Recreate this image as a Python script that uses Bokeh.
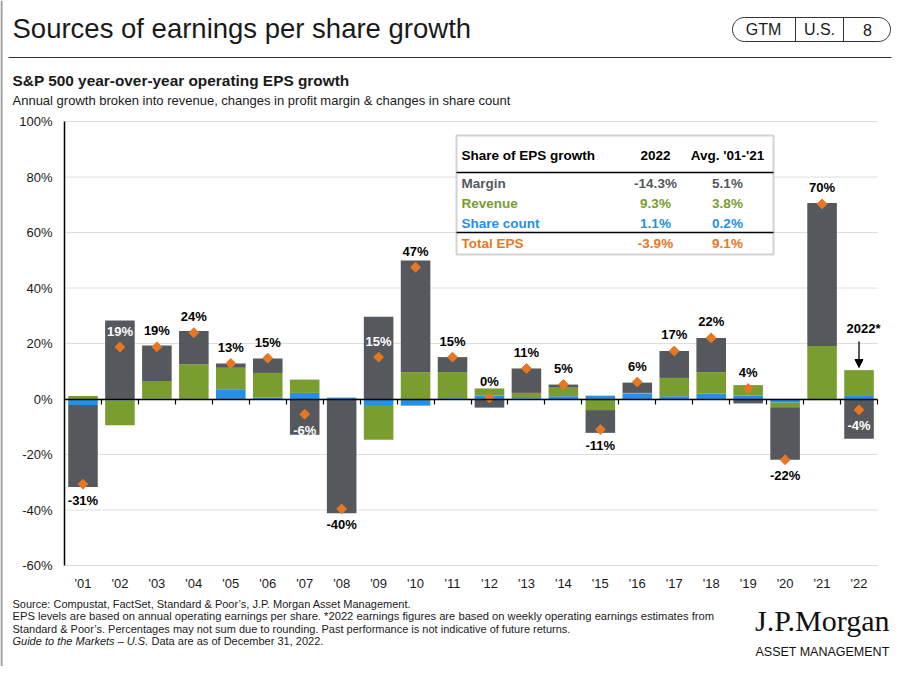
import numpy as np
from bokeh.plotting import figure
from bokeh.models import (Range1d, ColumnDataSource, Label, Arrow, LinearAxis,
                          NormalHead, FixedTicker, BoxAnnotation)
from bokeh.core.properties import value
from bokeh.embed import file_html
from bokeh.resources import INLINE

# ---------------- data ----------------
years = ["'01", "'02", "'03", "'04", "'05", "'06", "'07", "'08", "'09", "'10", "'11",
         "'12", "'13", "'14", "'15", "'16", "'17", "'18", "'19", "'20", "'21", "'22"]
share_count = [-2.2, -0.5, 0.1, -0.4, 3.5, 0.5, 2.2, 0.5, -2.5, -2.4, 0.3,
               1.3, 0.3, 1.0, 1.2, 2.0, 1.0, 1.9, 1.3, -1.3, -0.4, 1.1]
revenue = [1.1, -9.0, 6.4, 12.5, 7.8, 8.9, 4.8, 0.0, -12.2, 9.7, 9.4,
           2.5, 1.9, 3.1, -4.0, 0.2, 6.6, 7.8, 3.7, -1.7, 19.1, 9.3]
margin = [-29.5, 28.3, 12.8, 12.0, 1.5, 5.2, -12.9, -41.2, 29.6, 40.2, 5.4,
          -3.1, 8.8, 1.1, -8.2, 3.7, 9.7, 12.3, -1.6, -18.9, 51.5, -14.3]
total_eps = [-30.7, 18.7, 18.8, 23.9, 12.8, 14.7, -5.5, -39.6, 15.1, 47.5, 15.1,
             0.4, 11.0, 5.2, -11.0, 6.1, 17.3, 22.0, 3.8, -21.9, 70.3, -3.9]
total_labels = ["-31%", "19%", "19%", "24%", "13%", "15%", "-6%", "-40%", "15%", "47%", "15%",
                "0%", "11%", "5%", "-11%", "6%", "17%", "22%", "4%", "-22%", "70%", "-4%"]
y_ticks = [-60, -40, -20, 0, 20, 40, 60, 80, 100]
y_tick_labels = {t: f"{t}%" for t in y_ticks}

table_header = ["Share of EPS growth", "2022", "Avg. '01-'21"]
table_rows = ["Margin", "Revenue", "Share count", "Total EPS"]
table_2022 = ["-14.3%", "9.3%", "1.1%", "-3.9%"]
table_avg = ["5.1%", "3.8%", "0.2%", "9.1%"]

# ---------------- style / layout ----------------
FONT = "Liberation Sans"
GRAY = "#55585c"
GREEN = "#7a9d2f"
BLUE = "#2490e6"
ORANGE = "#e87722"
TXT = "#1a1a1a"

W, H = 896, 666
CH_L, CH_R, CH_T, CH_B = 64, 877, 121, 565   # chart area in page pixels
Y_MIN, Y_MAX = -60, 100
N = len(years)
PX_PER_X = (CH_R - CH_L) / N
UNIT_PER_PX = (Y_MAX - Y_MIN) / (CH_B - CH_T)


def dx(px):
    return (px - CH_L) / PX_PER_X - 0.5


def dy(py):
    return Y_MAX - (py - CH_T) * UNIT_PER_PX


p = figure(width=W, height=H, x_range=Range1d(dx(0), dx(W)), y_range=Range1d(dy(H), dy(0)),
           output_backend="svg", toolbar_location=None, x_axis_type=None, y_axis_type=None,
           min_border_left=0, min_border_right=0, min_border_top=0, min_border_bottom=0)
p.outline_line_color = None
p.background_fill_color = "white"
p.border_fill_color = "white"
p.grid.visible = False

xc = np.arange(N)                     # category centres
x_lo, x_hi = -0.5, N - 0.5

# horizontal grid lines across the chart area
p.segment(x0=np.full(len(y_ticks), x_lo), x1=np.full(len(y_ticks), x_hi),
          y0=y_ticks, y1=y_ticks, line_color="#dedede", line_width=1)

# y axis
yax = LinearAxis(fixed_location=x_lo, bounds=(Y_MIN, Y_MAX),
                 ticker=FixedTicker(ticks=y_ticks), major_label_overrides=y_tick_labels,
                 axis_line_color="black", axis_line_width=1.5,
                 major_tick_line_color=None, minor_tick_line_color=None,
                 major_tick_in=0, major_tick_out=0, major_label_standoff=12,
                 major_label_text_font=FONT, major_label_text_font_size="13px",
                 major_label_text_color=TXT)
p.add_layout(yax, "left")

# x axis (category labels at the chart bottom)
xax = LinearAxis(fixed_location=Y_MIN, bounds=(x_lo, x_hi),
                 ticker=FixedTicker(ticks=list(xc)),
                 major_label_overrides={int(i): y for i, y in zip(xc, years)},
                 axis_line_color=None, major_tick_line_color=None, minor_tick_line_color=None,
                 major_tick_in=0, major_tick_out=0, major_label_standoff=10,
                 major_label_text_font=FONT, major_label_text_font_size="13px",
                 major_label_text_color=TXT)
p.add_layout(xax, "below")

# stacked components: positives up from zero, negatives down from zero
comp = np.array([share_count, revenue, margin])
pos = np.clip(comp, 0, None)
neg = np.clip(comp, None, 0)
pos_top = np.cumsum(pos, axis=0)
pos_bot = pos_top - pos
neg_bot = np.cumsum(neg, axis=0)
neg_top = neg_bot - neg
bottoms = np.where(comp >= 0, pos_bot, neg_top)
tops = np.where(comp >= 0, pos_top, neg_bot)

for i, col in enumerate([BLUE, GREEN, GRAY]):
    src = ColumnDataSource(dict(x=xc, bottom=bottoms[i], top=tops[i]))
    p.vbar(x="x", bottom="bottom", top="top", width=0.8, source=src,
           fill_color=col, line_color=None)

# zero line with ticks at category boundaries
zax = LinearAxis(fixed_location=0, bounds=(x_lo, x_hi),
                 ticker=FixedTicker(ticks=list(np.arange(1, N + 1) - 0.5)),
                 axis_line_color="black", axis_line_width=1.5,
                 major_tick_line_color="black", major_tick_line_width=1.2,
                 major_tick_in=0, major_tick_out=5, minor_tick_line_color=None,
                 major_label_text_font_size="0px", major_label_text_alpha=0)
p.add_layout(zax, "below")

# total labels
tot = np.array(total_eps)
stack_hi = pos_top[-1]
stack_lo = neg_bot[-1]
label_shift = 16 * UNIT_PER_PX
label_pos = np.where(tot >= 0, tot + label_shift, tot - label_shift)
inside = (label_pos < stack_hi) & (label_pos > stack_lo)
lab_src = ColumnDataSource(dict(
    x=xc, y=total_eps, text=total_labels,
    yoff=np.where(tot >= 0, -16, 16),
    color=np.where(inside, "white", "black")))
p.text(x="x", y="y", text="text", y_offset="yoff", text_color="color", source=lab_src,
       text_font=value(FONT), text_font_style="bold", text_font_size="13px",
       text_align="center", text_baseline="middle")

p.scatter(x=xc, y=total_eps, marker="square", angle=np.pi / 4, size=7,
          fill_color=ORANGE, line_color=ORANGE)


def label(x, y, text, size, color=TXT, style="normal", align="left", font=FONT):
    p.add_layout(Label(x=dx(x), y=dy(y), text=text, text_font=font,
                       text_font_size=f"{size}px", text_font_style=style,
                       text_color=color, text_align=align, text_baseline="middle"))


def line(x0, y0, x1, y1, color, width):
    p.add_layout(Arrow(end=None, x_start=dx(x0), y_start=dy(y0), x_end=dx(x1), y_end=dy(y1),
                       line_color=color, line_width=width))


# 2022* annotation
p.add_layout(Arrow(end=NormalHead(size=8, fill_color="black", line_color="black"),
                   x_start=xc[-1], x_end=xc[-1], y_start=dy(341), y_end=dy(367),
                   line_color="black", line_width=1.3))
label(863, 328, "2022*", 13, color="black", style="bold", align="center")

# table
p.add_layout(BoxAnnotation(left=dx(456), right=dx(773), top=dy(135), bottom=dy(254),
                           fill_color="white", fill_alpha=1.0,
                           line_color="#6d6d6d", line_width=2))
label(461, 155, table_header[0], 13.5, color="black", style="bold")
label(655, 155, table_header[1], 13.5, color="black", style="bold", align="center")
label(727, 155, table_header[2], 13.5, color="black", style="bold", align="center")
line(456, 172, 773, 172, "black", 1.5)
line(456, 232, 773, 232, "black", 1.5)
row_colors = [GRAY, GREEN, BLUE, ORANGE]
row_y = [183, 203, 223, 243]
for name, v22, vavg, c, yy in zip(table_rows, table_2022, table_avg, row_colors, row_y):
    label(461, yy, name, 13.5, color=c, style="bold")
    label(655, yy, v22, 13.5, color=c, style="bold", align="center")
    label(727, yy, vavg, 13.5, color=c, style="bold", align="center")

# header
label(12, 28, "Sources of earnings per share growth", 27.5)
line(8, 57, 891, 57, "#333333", 1)
ang = np.linspace(-np.pi / 2, np.pi / 2, 24)
r = 12
cx_l, cx_r, cy = 744, 878, 29
pill_x = list(cx_r + r * np.cos(ang)) + list(cx_l - r * np.cos(ang))
pill_y = list(cy - r * np.sin(ang)) + list(cy + r * np.sin(ang))
pill_x.append(pill_x[0])
pill_y.append(pill_y[0])
p.line(x=[dx(v) for v in pill_x], y=[dy(v) for v in pill_y], line_color="#333333", line_width=1)
line(795, 17, 795, 41, "#333333", 1)
line(843, 17, 843, 41, "#333333", 1)
label(763, 29, "GTM", 16, align="center")
label(819, 29, "U.S.", 16, align="center")
label(867, 29, "8", 16, align="center")
label(12, 80, "S&P 500 year-over-year operating EPS growth", 15.4, style="bold")
label(12, 100, "Annual growth broken into revenue, changes in profit margin & changes in share count", 13)

# footer
label(12, 603, "Source: Compustat, FactSet, Standard & Poor\u2019s, J.P. Morgan Asset Management.", 11)
label(12, 615.5, "EPS levels are based on annual operating earnings per share. *2022 earnings figures are based on weekly operating earnings estimates from", 11.2)
label(12, 628, "Standard & Poor\u2019s. Percentages may not sum due to rounding. Past performance is not indicative of future returns.", 11)
label(12, 640, "Guide to the Markets \u2013 U.S.", 11, style="italic")
label(151, 640, "Data are as of December 31, 2022.", 11)
label(889, 620, "J.P.Morgan", 30, color="#111111", align="right", font="Liberation Serif")
label(889, 651, "ASSET MANAGEMENT", 12.5, color="#111111", align="right")

# grey slide edge on the left
line(1, 0, 1, H, "#9a9a9a", 2)

open("out.html", "w").write(file_html(p, INLINE))
